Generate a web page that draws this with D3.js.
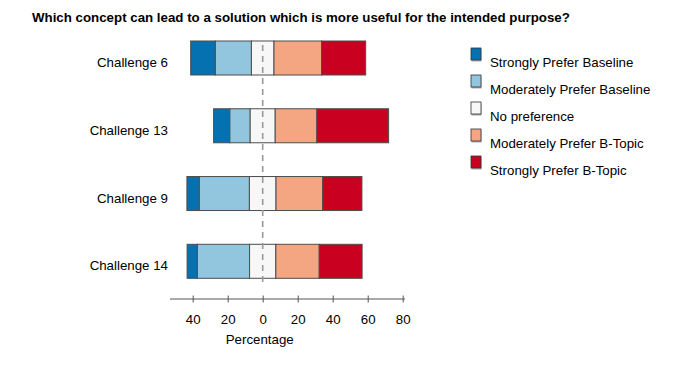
<!DOCTYPE html>
<html>
<head>
<meta charset="utf-8">
<script src="https://cdn.jsdelivr.net/npm/d3@7"></script>
<style>
  body { margin: 0; background: #fff; }
  text { font-family: "Liberation Sans", Arial, Helvetica, sans-serif; }
</style>
</head>
<body>
<div id="chart"></div>
<script>
const categories = ["Challenge 6", "Challenge 13", "Challenge 9", "Challenge 14"];
const levels = ["Strongly Prefer Baseline", "Moderately Prefer Baseline", "No preference",
                "Moderately Prefer B-Topic", "Strongly Prefer B-Topic"];
const strongBase = [14.1, 9.3, 7.1, 5.9];
const modBase    = [20.6, 11.6, 28.6, 29.8];
const neutral    = [12.9, 14.3, 15.2, 15.0];
const modTopic   = [27.2, 23.8, 26.7, 24.8];
const strongTopic= [25.2, 41.0, 22.4, 24.5];
const tickValues = [-40, -20, 0, 20, 40, 60, 80];
const colors = ["#0571b0", "#92c5de", "#f7f7f7", "#f4a582", "#ca0020"];

const width = 677, height = 374,
      fs = 13.3;

const svg = d3.select('#chart').append('svg')
  .attr('width', width)
  .attr('height', height);

const x = d3.scaleLinear().domain([-40, 80]).range([192.7, 402.7]);
const y = d3.scalePoint().domain(categories).range([58, 261.3]);
const barH = 34;

// build rows of segments
const series = [strongBase, modBase, neutral, modTopic, strongTopic];
const segs = [];
categories.forEach((c, i) => {
  let start = -(strongBase[i] + modBase[i] + neutral[i] / 2);
  series.forEach((s, k) => {
    segs.push({cat: c, k: k, x0: start, x1: start + s[i]});
    start += s[i];
  });
});

svg.append('g').selectAll('rect')
  .data(segs)
  .enter().append('rect')
    .attr('x', d => x(d.x0))
    .attr('y', d => y(d.cat) - barH / 2)
    .attr('width', d => x(d.x1) - x(d.x0))
    .attr('height', barH)
    .attr('fill', d => colors[d.k])
    .attr('stroke', '#4d4d4d')
    .attr('stroke-width', 1);

// reference line at zero
svg.append('line')
  .attr('x1', x(0)).attr('x2', x(0))
  .attr('y1', 45).attr('y2', 284)
  .attr('stroke', '#999')
  .attr('stroke-width', 1.6)
  .attr('stroke-dasharray', '6,5');

// category labels
svg.append('g').selectAll('text')
  .data(categories)
  .enter().append('text')
    .attr('x', 168)
    .attr('y', d => y(d) + 9)
    .attr('text-anchor', 'end')
    .attr('font-size', fs)
    .text(d => d);

// x axis
const axisY = 299;
const xAxis = d3.axisBottom(x)
  .tickValues(tickValues)
  .tickSize(3.5)
  .tickFormat(d => Math.abs(d));
const ax = svg.append('g')
  .attr('transform', 'translate(0,' + axisY + ')')
  .call(xAxis);
ax.select('.domain').remove();
ax.insert('line', ':first-child')
  .attr('x1', 170).attr('x2', 405)
  .attr('stroke', '#555');
ax.selectAll('.tick line')
  .attr('y1', -3.5).attr('y2', 3.5)
  .attr('stroke', '#555');
ax.selectAll('.tick text')
  .attr('y', 24.5)
  .attr('dy', 0)
  .attr('font-size', fs)
  .attr('font-family', '"Liberation Sans", Arial, sans-serif')
  .attr('fill', '#000');

svg.append('text')
  .attr('x', x(0) - 3)
  .attr('y', 344)
  .attr('text-anchor', 'middle')
  .attr('font-size', fs)
  .text('Percentage');

// title
svg.append('text')
  .attr('x', 32)
  .attr('y', 22)
  .attr('font-size', fs)
  .attr('font-weight', 'bold')
  .text('Which concept can lead to a solution which is more useful for the intended purpose?');

// legend
const legend = svg.append('g').selectAll('g')
  .data(levels)
  .enter().append('g')
    .attr('transform', (d, i) => 'translate(471,' + (48 + i * 27) + ')');
legend.append('rect')
  .attr('x', 0.5).attr('y', 1.5)
  .attr('width', 10).attr('height', 12)
  .attr('fill', '#aaa');
legend.append('rect')
  .attr('width', 10).attr('height', 12)
  .attr('fill', (d, i) => colors[i])
  .attr('stroke', '#333')
  .attr('stroke-width', 0.8);
legend.append('text')
  .attr('x', 19)
  .attr('y', 19)
  .attr('font-size', fs)
  .text(d => d);
</script>
</body>
</html>
